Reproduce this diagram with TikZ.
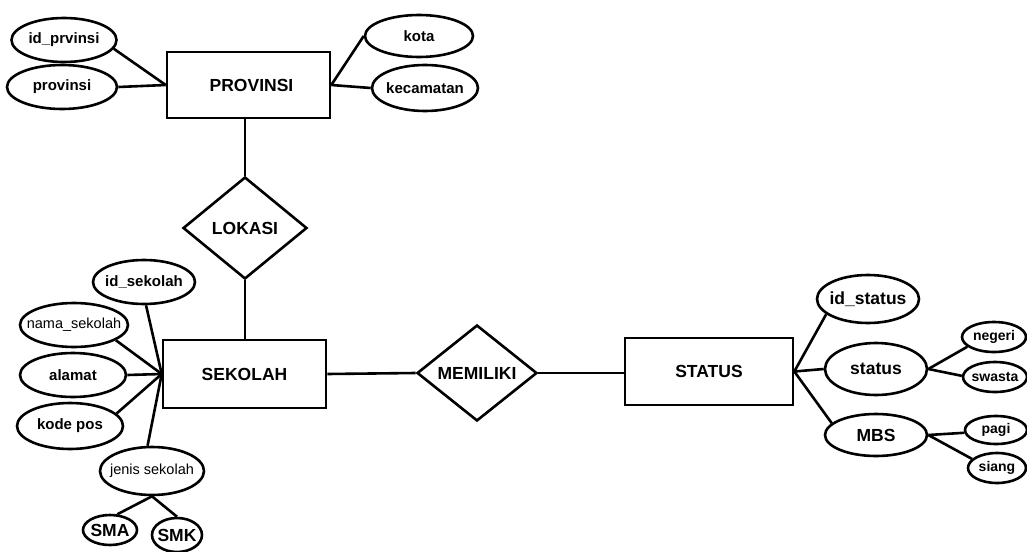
\documentclass[tikz,border=0pt]{standalone}
\usepackage{fontspec}
\setmainfont{Liberation Sans}
\usetikzlibrary{shapes.geometric}
\begin{document}
\begin{tikzpicture}[x=1pt,y=-1pt,
  lw/.style={line width=2.6pt},
  ent/.style={draw,lw,rectangle,inner sep=0pt,font=\bfseries\fontsize{17.5}{20}\selectfont},
  rel/.style={draw,lw,diamond,inner sep=0pt,font=\bfseries\fontsize{17.5}{20}\selectfont},
  att/.style={draw,lw,ellipse,inner ysep=0pt,inner xsep=-9pt,font=\bfseries\fontsize{15}{17}\selectfont},
  attr/.style={draw,lw,ellipse,inner ysep=0pt,inner xsep=-12pt,font=\fontsize{14.5}{17}\selectfont},
  big/.style={font=\bfseries\fontsize{17.5}{20}\selectfont},
  sm/.style={font=\bfseries\fontsize{14}{16}\selectfont},
  con/.style={lw}]
\useasboundingbox[fill=white] (0,0) rectangle (1027,551);
% entities
\node[ent,minimum width=163,minimum height=66] (prov) at (248.5,85) {\hspace*{6pt}PROVINSI};
\node[ent,minimum width=163,minimum height=68] (sek) at (244.5,374) {SEKOLAH};
\node[ent,minimum width=168,minimum height=67] (status) at (709,371.5) {STATUS};
% relations
\node[rel,minimum width=124,minimum height=102] (lokasi) at (245,228) {LOKASI};
\node[rel,minimum width=120,minimum height=96] (memiliki) at (477,373) {MEMILIKI};
% provinsi attributes
\node[att,minimum width=105,minimum height=44] (idp) at (64,40) {id\_prvinsi};
\node[att,minimum width=110,minimum height=44] (provinsi) at (62,87) {provinsi};
\node[att,minimum width=108,minimum height=42] (kota) at (419,36) {kota};
\node[att,minimum width=106,minimum height=46] (kec) at (425,88) {kecamatan};
% sekolah attributes
\node[att,minimum width=102,minimum height=44] (idsek) at (144,282) {id\_sekolah};
\node[attr,minimum width=108,minimum height=44] (nama) at (74,325) {nama\_sekolah};
\node[att,minimum width=106,minimum height=44] (alamat) at (73,375) {alamat};
\node[att,minimum width=106,minimum height=46] (kode) at (70,426) {kode pos};
\node[attr,minimum width=104,minimum height=48] (jenis) at (152,471) {jenis sekolah};
\node[att,big,minimum width=54,minimum height=30] (sma) at (110,530) {SMA};
\node[att,big,minimum width=50,minimum height=34] (smk) at (177,535) {SMK};
% status attributes
\node[att,big,minimum width=102,minimum height=48] (idstat) at (868,299) {id\_status};
\node[att,big,minimum width=102,minimum height=52] (stat) at (876,369) {status};
\node[att,big,minimum width=102,minimum height=42] (mbs) at (876,435) {MBS};
\node[att,sm,minimum width=64,minimum height=30] (negeri) at (994,337) {negeri};
\node[att,sm,minimum width=64,minimum height=30] (swasta) at (995,377) {swasta};
\node[att,sm,minimum width=62,minimum height=28] (pagi) at (996,430) {pagi};
\node[att,sm,minimum width=58,minimum height=30] (siang) at (997,468) {siang};
% connectors
\draw[con] (idp.-10) -- (prov.west);
\draw[con] (provinsi.east) -- (prov.west);
\draw[con] (kota.west) -- (prov.east);
\draw[con] (kec.west) -- (prov.east);
\draw[con] (lokasi.north |- prov.south) -- (lokasi.north);
\draw[con] (lokasi.south) -- (lokasi.south |- sek.north);
\draw[con] (idsek.-85) -- (sek.west);
\draw[con] (nama.-20) -- (sek.west);
\draw[con] (alamat.east) -- (sek.west);
\draw[con] (kode.15) -- (sek.west);
\draw[con] (jenis.100) -- (sek.west);
\draw[con] (jenis.south) -- (sma.65);
\draw[con] (jenis.south) -- (smk.north);
\draw[con] (sek.east) -- (memiliki.west);
\draw[con] (memiliki.east) -- (memiliki.east -| status.west);
\draw[con] (status.east) -- (idstat.200);
\draw[con] (status.east) -- (stat.west);
\draw[con] (status.east) -- (mbs.165);
\draw[con] (stat.east) -- (negeri.200);
\draw[con] (stat.east) -- (swasta.178);
\draw[con] (mbs.east) -- (pagi.185);
\draw[con] (mbs.east) -- (siang.160);
\end{tikzpicture}
\end{document}
